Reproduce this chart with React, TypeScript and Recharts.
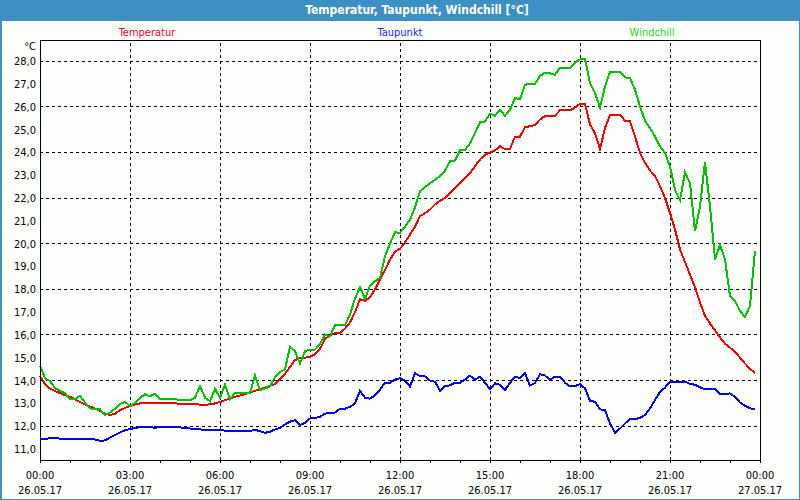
import { LineChart, Line, XAxis, YAxis, CartesianGrid, ReferenceLine, ReferenceArea } from "recharts";

// 10-minute readings, 26.05.17 00:00 .. 23:50 (one row per hour)
const temperatur = [
  14.2, 13.85, 13.65, 13.54, 13.45, 13.36,
  13.29, 13.18, 13.06, 12.96, 12.86, 12.78,
  12.67, 12.55, 12.49, 12.55, 12.7, 12.8,
  12.88, 12.95, 13.0, 13.02, 13.0, 13.0,
  13.0, 13.0, 13.0, 13.0, 12.99, 12.99,
  12.98, 12.96, 12.95, 12.94, 12.96, 13.0,
  13.06, 13.14, 13.22, 13.29, 13.35, 13.41,
  13.47, 13.55, 13.62, 13.69, 13.77, 13.85,
  14.05, 14.3, 14.6, 14.9, 14.98, 15.0,
  15.05, 15.15, 15.4, 15.82, 15.98, 16.08,
  16.1, 16.28, 16.55, 17.0, 17.56, 17.5,
  17.65, 18.0, 18.44, 18.85, 19.3, 19.65,
  19.78, 20.05, 20.4, 20.75, 21.21, 21.33,
  21.5, 21.72, 21.88, 22.0, 22.23, 22.45,
  22.66, 22.88, 23.1, 23.4, 23.69, 23.9,
  24.0, 24.1, 24.27, 24.15, 24.15, 24.7,
  24.7, 25.11, 25.15, 25.2, 25.45, 25.6,
  25.6, 25.61, 25.85, 25.85, 25.84, 25.97,
  26.13, 26.13, 25.22, 24.85, 24.15, 25.07,
  25.65, 25.65, 25.65, 25.39, 25.36, 24.7,
  23.98, 23.54, 23.22, 22.96, 22.52, 22.0,
  21.35, 20.62, 19.75, 19.2, 18.65, 18.1,
  17.42, 16.85, 16.5, 16.2, 15.89, 15.62,
  15.45, 15.25, 15.01, 14.75, 14.52, 14.33,
];

const taupunkt = [
  11.45, 11.45, 11.47, 11.47, 11.46, 11.45,
  11.45, 11.45, 11.45, 11.45, 11.45, 11.42,
  11.36, 11.38, 11.5, 11.61, 11.73, 11.82,
  11.88, 11.92, 11.96, 11.97, 11.95, 11.94,
  11.95, 11.97, 11.97, 11.97, 11.95, 11.93,
  11.9, 11.9, 11.86, 11.84, 11.84, 11.83,
  11.82, 11.81, 11.81, 11.81, 11.8, 11.78,
  11.78, 11.85, 11.78, 11.71, 11.76, 11.86,
  11.93, 12.08, 12.2, 12.26, 12.06, 12.15,
  12.34, 12.36, 12.42, 12.55, 12.6, 12.6,
  12.77, 12.77, 12.85, 13.0, 13.55, 13.25,
  13.21, 13.35, 13.6, 13.91, 13.91, 14.05,
  14.1, 14.0, 13.74, 14.32, 14.2, 14.18,
  14.0, 13.95, 13.56, 13.76, 13.79, 13.91,
  13.9, 14.05, 14.22, 14.03, 14.18, 13.9,
  13.62, 13.88, 13.82, 13.59, 13.9, 14.18,
  14.1, 14.32, 13.78, 13.9, 14.28, 14.22,
  14.03, 14.18, 14.18, 13.91, 13.74, 13.76,
  13.85, 13.66, 13.12, 13.07, 12.74, 12.71,
  12.12, 11.71, 11.9, 12.12, 12.31, 12.31,
  12.37, 12.49, 12.78, 13.15, 13.51, 13.69,
  13.96, 13.96, 13.96, 13.96, 13.85, 13.82,
  13.71, 13.62, 13.62, 13.62, 13.41, 13.41,
  13.44, 13.29, 13.04, 12.9, 12.78, 12.76,
];

const windchill = [
  14.66, 14.1, 13.98, 13.67, 13.55, 13.45,
  13.18, 13.18, 13.33, 13.04, 12.78, 12.76,
  12.74, 12.49, 12.6, 12.76, 12.98, 13.07,
  12.88, 13.03, 13.25, 13.4, 13.32, 13.42,
  13.18, 13.18, 13.18, 13.18, 13.16, 13.14,
  13.14, 13.25, 13.76, 13.25, 13.1, 13.64,
  13.25, 13.83, 13.18, 13.47, 13.47, 13.45,
  13.44, 14.23, 13.58, 13.65, 13.75, 14.15,
  14.37, 14.5, 15.48, 15.29, 14.75, 15.29,
  15.36, 15.36, 15.6, 16.02, 15.95, 16.42,
  16.42, 16.42, 16.9, 17.6, 18.1, 17.58,
  18.17, 18.35, 18.5, 19.45, 20.0, 20.5,
  20.48, 20.75, 21.05, 21.6, 22.3, 22.48,
  22.65, 22.8, 22.97, 23.2, 23.61, 23.65,
  24.09, 24.1, 24.4, 24.85, 25.32, 25.36,
  25.7, 25.61, 25.87, 25.61, 25.87, 26.38,
  26.34, 26.97, 27.0, 27.01, 27.35, 27.5,
  27.47, 27.4, 27.72, 27.7, 27.69, 27.94,
  28.08, 28.1, 27.04, 26.6, 25.97, 26.89,
  27.53, 27.53, 27.53, 27.29, 27.27, 26.75,
  26.02, 25.39, 25.07, 24.71, 24.27, 23.98,
  23.39, 22.37, 21.91, 23.13, 22.66, 20.55,
  21.64, 23.57, 21.64, 19.31, 19.94, 19.31,
  17.71, 17.49, 17.05, 16.79, 17.27, 19.68,
];

const hourTicks = Array.from({ length: 25 }, (_, i) => i);
const tickTimes = ["00:00", "03:00", "06:00", "09:00", "12:00", "15:00", "18:00", "21:00", "00:00"];
const tickDates = ["26.05.17", "26.05.17", "26.05.17", "26.05.17", "26.05.17", "26.05.17", "26.05.17", "26.05.17", "27.05.17"];
const gridHours = [3, 6, 9, 12, 15, 18, 21];
const yTicks = [11, 12, 13, 14, 15, 16, 17, 18, 19, 20, 21, 22, 23, 24, 25, 26, 27, 28];
const Y_MIN = 10.52;
const Y_MAX = 28.93;

const FONT = "Tahoma, 'DejaVu Sans Condensed', 'Liberation Sans', Arial, sans-serif";

const data = temperatur.map((v, i) => ({
  t: (i * 10) / 60,
  temperatur: v,
  taupunkt: taupunkt[i],
  windchill: windchill[i],
}));

function TimeTick(props: any) {
  const { x, y, payload } = props;
  const h = payload.value as number;
  if (h % 3 !== 0) return null;
  const idx = h / 3;
  return (
    <g>
      <text x={x} y={y + 15.5} textAnchor="middle" fill="#000" fontSize={11} fontFamily={FONT}>
        {tickTimes[idx]}
      </text>
      <text x={x} y={y + 31} textAnchor="middle" fill="#000" fontSize={11} fontFamily={FONT}>
        {tickDates[idx]}
      </text>
    </g>
  );
}

export default function App() {
  return (
    <div style={{ position: "absolute", left: 0, top: 0, width: 800, height: 500, background: "#3d8fc4", fontFamily: FONT }}>
      <div style={{ position: "absolute", left: 2, top: 21, width: 797, height: 478, background: "#fdfffd" }} />
      <div
        style={{
          position: "absolute",
          left: 417,
          top: 3,
          transform: "translateX(-50%)",
          color: "#fff",
          fontWeight: "bold",
          fontSize: 12,
          lineHeight: "14px",
          whiteSpace: "nowrap",
        }}
      >
        Temperatur, Taupunkt, Windchill [°C]
      </div>
      <div style={{ position: "absolute", left: 147, top: 26, transform: "translateX(-50%)", color: "#f0002a", fontSize: 11, lineHeight: "13px" }}>
        Temperatur
      </div>
      <div style={{ position: "absolute", left: 400, top: 26, transform: "translateX(-50%)", color: "#1a1aff", fontSize: 11, lineHeight: "13px" }}>
        Taupunkt
      </div>
      <div style={{ position: "absolute", left: 652, top: 26, transform: "translateX(-50%)", color: "#1fd01f", fontSize: 11, lineHeight: "13px" }}>
        Windchill
      </div>
      <div style={{ position: "absolute", right: 800 - 36, top: 40, color: "#000", fontSize: 11, lineHeight: "13px" }}>°C</div>
      <div style={{ position: "absolute", left: 0, top: 0 }}>
        <LineChart
          width={800}
          height={500}
          data={data}
          margin={{ top: 40, right: 40, bottom: 0, left: 0 }}
          style={{ shapeRendering: "crispEdges" }}
        >
          <CartesianGrid vertical={false} stroke="#000" strokeDasharray="3 3" />
          {gridHours.map((h) => (
            <ReferenceLine key={h} x={h} stroke="#000" strokeDasharray="3 3" />
          ))}
          <XAxis
            dataKey="t"
            type="number"
            domain={[0, 24]}
            ticks={hourTicks}
            interval={0}
            height={40}
            tickSize={3}
            tickMargin={0}
            axisLine={{ stroke: "#000" }}
            tickLine={{ stroke: "#000" }}
            tick={<TimeTick />}
          />
          <YAxis
            type="number"
            domain={[Y_MIN, Y_MAX]}
            ticks={yTicks}
            width={40}
            tickSize={0}
            tickMargin={4}
            axisLine={{ stroke: "#000" }}
            tickLine={false}
            tick={{ fill: "#000", fontSize: 11, fontFamily: FONT }}
            tickFormatter={(v: number) => v.toFixed(1).replace(".", ",")}
          />
          <ReferenceArea x1={0} x2={24} y1={Y_MIN} y2={Y_MAX} fill="none" stroke="#000" strokeOpacity={1} fillOpacity={0} />
          <Line type="linear" dataKey="taupunkt" stroke="#0000f0" strokeWidth={2} dot={false} isAnimationActive={false} />
          <Line type="linear" dataKey="temperatur" stroke="#f00000" strokeWidth={2} dot={false} isAnimationActive={false} />
          <Line type="linear" dataKey="windchill" stroke="#00c000" strokeWidth={2} dot={false} isAnimationActive={false} />
        </LineChart>
      </div>
    </div>
  );
}
